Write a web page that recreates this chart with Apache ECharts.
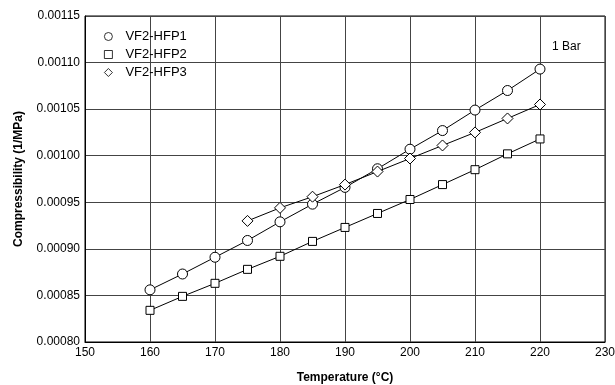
<!DOCTYPE html>
<html><head><meta charset="utf-8">
<script src="https://cdn.jsdelivr.net/npm/echarts@6/dist/echarts.min.js"></script>
<style>html,body{margin:0;padding:0;background:#fff}#c{width:615px;height:385px}</style>
</head><body><div id="c"></div>
<script>
const temps1 = [160,165,170,175,180,185,190,195,200,205,210,215,220];
const hfp1 = [0.000856,0.000873,0.000891,0.000909,0.000929,0.000948,0.000966,0.000986,0.001007,0.001027,0.001049,0.001070,0.001093];
const temps2 = [160,165,170,175,180,185,190,195,200,205,210,215,220];
const hfp2 = [0.000834,0.000849,0.000863,0.000878,0.000892,0.000908,0.000923,0.000938,0.000953,0.000969,0.000985,0.001002,0.001018];
const temps3 = [175,180,185,190,195,200,205,210,215,220];
const hfp3 = [0.000930,0.000944,0.000956,0.000969,0.000983,0.000997,0.001011,0.001025,0.001040,0.001055];
const seriesNames = ['VF2-HFP1','VF2-HFP2','VF2-HFP3'];
const symbols = ['circle','rect','diamond'];
const symbolSizes = [10,8,11];
const annotation = '1 Bar';

const pairs = (xs, ys) => xs.map((x,i)=>[x, ys[i]]);
const datasets = [pairs(temps1,hfp1), pairs(temps2,hfp2), pairs(temps3,hfp3)];
const font = 'Liberation Sans, Arial, sans-serif';

const chart = echarts.init(document.getElementById('c'), null, {renderer:'canvas'});
chart.setOption({
  animation:false,
  backgroundColor:'#fff',
  grid:{left:85, right:10, top:16, bottom:43, show:true, borderColor:'#000', borderWidth:1,
        containLabel:false, outerBoundsMode:'none'},
  legend:{
    orient:'vertical', left:99, top:25, itemGap:5, itemWidth:8, itemHeight:8,
    textStyle:{fontFamily:font, fontSize:13, color:'#000', padding:[0,0,0,8]},
    itemStyle:{borderWidth:0.8},
    data: seriesNames.map((n,i)=>({name:n, icon:symbols[i]}))
  },
  xAxis:{
    type:'value', min:150, max:230, interval:10,
    name:'Temperature (°C)', nameLocation:'middle', nameGap:30,
    nameTextStyle:{fontFamily:font, fontSize:12, fontWeight:'bold', color:'#000'},
    axisLine:{lineStyle:{color:'#000'}}, axisTick:{show:false},
    axisLabel:{fontFamily:font, fontSize:12, color:'#000', margin:5},
    splitLine:{show:true, lineStyle:{color:'#444', width:1}}
  },
  yAxis:{
    type:'value', min:0.0008, max:0.00115, interval:0.00005,
    name:'Compressibility (1/MPa)', nameLocation:'middle', nameGap:60, nameRotate:90,
    nameTextStyle:{fontFamily:font, fontSize:12, fontWeight:'bold', color:'#000'},
    axisLine:{show:true, lineStyle:{color:'#000'}}, axisTick:{show:false},
    axisLabel:{fontFamily:font, fontSize:12, color:'#000', margin:5, formatter:v=>v.toFixed(5)},
    splitLine:{show:true, lineStyle:{color:'#444', width:1}}
  },
  graphic:[{type:'text', left:552, top:41, style:{text:annotation, font:'12px Liberation Sans, Arial, sans-serif', fill:'#000'}}],
  series: datasets.map((d,i)=>({
    name:seriesNames[i], type:'line', data:d,
    symbol:symbols[i], symbolSize:symbolSizes[i], showAllSymbol:true,
    lineStyle:{color:'#000', width:1},
    itemStyle:{color:'#fff', borderColor:'#000', borderWidth:1},
    z: 3+i
  }))
});
</script></body></html>
